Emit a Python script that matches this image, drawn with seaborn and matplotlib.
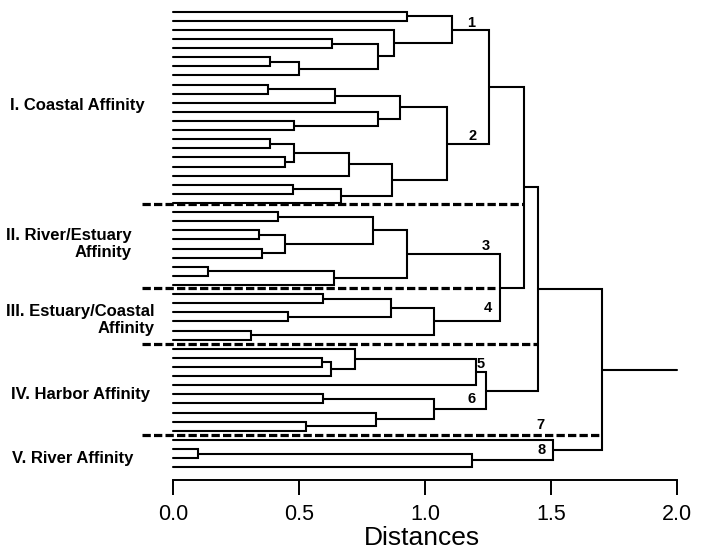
import matplotlib
matplotlib.use("Agg")
import matplotlib.pyplot as plt
import numpy as np
import pandas as pd
import seaborn as sns

# ---------------- data ----------------
n_leaves = 51  # leaves 0..50, top to bottom
# merges: new node ids start at 51, in this order
merge_left = [0, 3, 5, 53, 52, 2, 51,
              8, 58, 12, 11, 59, 14, 16, 63, 65, 19, 67, 66, 62, 57,
              22, 24, 26, 73, 72, 28, 77, 76,
              31, 33, 80, 35, 82, 79, 71,
              38, 87, 37, 89,
              42, 45, 44, 91, 90, 86,
              48, 97, 47, 96]
merge_right = [1, 4, 6, 7, 54, 55, 56,
               9, 10, 13, 60, 61, 15, 17, 64, 18, 20, 21, 68, 69, 70,
               23, 25, 27, 74, 75, 29, 30, 78,
               32, 34, 81, 36, 83, 84, 85,
               39, 40, 88, 41,
               43, 46, 92, 93, 94, 95,
               49, 50, 98, 99]
merge_height = [0.927, 0.63, 0.386, 0.50, 0.812, 0.878, 1.108,
                0.376, 0.643, 0.481, 0.812, 0.90, 0.386, 0.444, 0.481, 0.70,
                0.477, 0.667, 0.871, 1.087, 1.255,
                0.415, 0.343, 0.354, 0.444, 0.792, 0.138, 0.639, 0.93,
                0.594, 0.455, 0.865, 0.31, 1.037, 1.298, 1.394,
                0.59, 0.626, 0.722, 1.202,
                0.597, 0.527, 0.806, 1.037, 1.241, 1.447,
                0.10, 1.185, 1.507, 1.703]
root_end = 2.0

group_names = ["I. Coastal Affinity", "II. River/Estuary\nAffinity",
               "III. Estuary/Coastal\nAffinity", "IV. Harbor Affinity",
               "V. River Affinity"]
# separator positions (in leaf units) and the distance where each stops
separator_pos = [21.14, 30.36, 36.48, 46.47]
separator_end = [1.389, 1.278, 1.447, 1.703]

cluster_labels = ["1", "2", "3", "4", "5", "6", "7", "8"]
cluster_label_x = [1.183, 1.189, 1.242, 1.249, 1.222, 1.185, 1.460, 1.463]
cluster_label_y = [1.24, 13.64, 25.69, 32.56, 38.67, 42.51, 45.37, 48.11]

tick_values = [0.0, 0.5, 1.0, 1.5, 2.0]
tick_labels = ["0.0", "0.5", "1.0", "1.5", "2.0"]

# ---------------- build tree segments ----------------
pos_y = {i: float(i) for i in range(n_leaves)}
pos_h = {i: 0.0 for i in range(n_leaves)}
rows = []
node = n_leaves
for k, (a, b, h) in enumerate(zip(merge_left, merge_right, merge_height)):
    pts = [(pos_h[a], pos_y[a]), (h, pos_y[a]), (h, pos_y[b]), (pos_h[b], pos_y[b])]
    for j, (px, py) in enumerate(pts):
        rows.append({"seg": k, "order": j, "x": px, "y": py})
    pos_y[node] = (pos_y[a] + pos_y[b]) / 2
    pos_h[node] = h
    node += 1
root = node - 1
rows.append({"seg": len(merge_height), "order": 0, "x": pos_h[root], "y": pos_y[root]})
rows.append({"seg": len(merge_height), "order": 1, "x": root_end, "y": pos_y[root]})
df = pd.DataFrame(rows)

# ---------------- plot ----------------
sns.set_theme(style="white")
plt.rcParams["font.family"] = ["Liberation Sans", "DejaVu Sans"]

W, H = 705, 552
fig = plt.figure(figsize=(W / 100, H / 100), dpi=100)
ax = fig.add_axes([173 / W, 72 / H, 504 / W, 480 / H])

sns.lineplot(data=df, x="x", y="y", units="seg", estimator=None, sort=False,
             color="black", linewidth=1.5, ax=ax, legend=False)
for line in ax.get_lines():
    line.set_clip_on(False)
    line.set_solid_joinstyle("miter")

for yp, xe in zip(separator_pos, separator_end):
    ax.plot([-0.123, xe], [yp, yp], color="black", linewidth=2.3,
            linestyle=(0, (2.6, 1.0)), clip_on=False)

for t, lx, ly in zip(cluster_labels, cluster_label_x, cluster_label_y):
    ax.text(lx, ly, t, fontsize=10.5, fontweight="bold", ha="center",
            va="center", color="black")

ax.set_xlim(0, 2)
ax.set_ylim(51.4, -1.284)
ax.set_yticks([])
ax.set_xticks(tick_values)
ax.set_xticklabels(tick_labels)
ax.tick_params(axis="x", direction="out", length=11, width=1.4, pad=6,
               colors="black", bottom=True, labelsize=15.5)
for s in ["top", "right", "left"]:
    ax.spines[s].set_visible(False)
ax.spines["bottom"].set_linewidth(1.4)
ax.spines["bottom"].set_color("black")
ax.set_xlabel("Distances", fontsize=19, color="black", va="baseline")
ax.xaxis.set_label_coords(0.494, -0.1354)
ax.set_ylabel("")
ax.patch.set_alpha(0)

# group labels
lbl_kw = dict(fontsize=12, fontweight="bold", va="center", color="black")
fig.text(10 / W, 1 - 105 / H, group_names[0], ha="left", **lbl_kw)
fig.text(132 / W, 1 - 244 / H, group_names[1], ha="right",
         multialignment="right", linespacing=1.2, **lbl_kw)
fig.text(155 / W, 1 - 320 / H, group_names[2], ha="right",
         multialignment="right", linespacing=1.2, **lbl_kw)
fig.text(11 / W, 1 - 394 / H, group_names[3], ha="left", **lbl_kw)
fig.text(12 / W, 1 - 459 / H, group_names[4], ha="left", **lbl_kw)

fig.savefig("out.png", dpi=100, facecolor="white")
